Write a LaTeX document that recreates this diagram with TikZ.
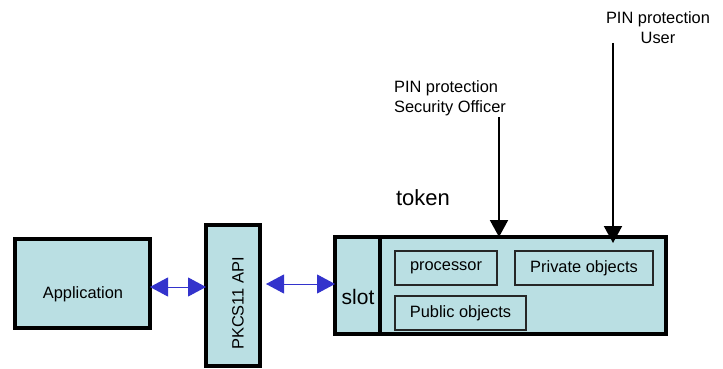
\documentclass[tikz,border=0pt]{standalone}
\usepackage{fontspec}
\setmainfont{Liberation Sans}
\usetikzlibrary{arrows.meta}
\definecolor{boxfill}{HTML}{BADFE3}
\definecolor{linkblue}{HTML}{3333CC}
\begin{document}
\begin{tikzpicture}[x=1pt,y=-1pt,
  every node/.style={font=\fontsize{16.4}{20}\selectfont, inner sep=0pt, outer sep=0pt},
  heavybox/.style={draw=black, line width=4pt, fill=boxfill, anchor=center},
  lightbox/.style={draw=black!85, line width=1.4pt, fill=boxfill, anchor=center},
  bluelink/.style={draw=linkblue, line width=1pt,
    {Triangle[length=18pt,width=19pt]}-{Triangle[length=18pt,width=19pt]}},
  pinlink/.style={draw=black, line width=2pt, -{Triangle[length=17pt,width=18pt]}}]
\useasboundingbox (0,0) rectangle (723,369);

% application and PKCS#11 layer
\node[heavybox, minimum width=135pt, minimum height=89pt] (app) at (82.5,283.5) {};
\node (applabel) at (83,294) {Application};
\node[heavybox, minimum width=54pt, minimum height=141pt] (api) at (233,295.5) {};
\node (apilabel) at (238,303.5) {\rotatebox{90}{PKCS11 API}};

% token with its slot and contents
\node[heavybox, minimum width=331pt, minimum height=97pt] (token) at (500.5,285.5) {};
\node[heavybox, minimum width=45pt, minimum height=97pt] (slot) at (357.5,285.5) {};
\node[font=\fontsize{21}{24}\selectfont] (slotlabel) at (358,297) {slot};
\node[lightbox, minimum width=102pt, minimum height=34pt] (proc) at (446,268) {processor};
\node[lightbox, minimum width=138pt, minimum height=34pt] (priv) at (584,268) {Private objects};
\node[lightbox, minimum width=131pt, minimum height=34pt] (pub) at (460.5,313) {Public objects};

\node[font=\fontsize{22}{26}\selectfont] (toklabel) at (423,198) {token};

% PIN labels
\node[align=left] (so) at (450,98) {PIN protection\\Security Officer};
\node[align=center] (user) at (658,28) {PIN protection\\User};
\coordinate (sostart) at (499,117);
\coordinate (userstart) at (613,43);
\coordinate (usertip) at (613,243);

% connectors
\coordinate (appout) at ([yshift=-3.5pt]app.east);
\coordinate (apiout) at (api.east |- 0,284);
\draw[bluelink] (appout) -- (api.west |- appout);
\draw[bluelink, shorten <=6pt] (apiout) -- (token.west |- apiout);
\draw[pinlink] (sostart) -- (sostart |- token.north);
\draw[pinlink] (userstart) -- (usertip);
\end{tikzpicture}
\end{document}
